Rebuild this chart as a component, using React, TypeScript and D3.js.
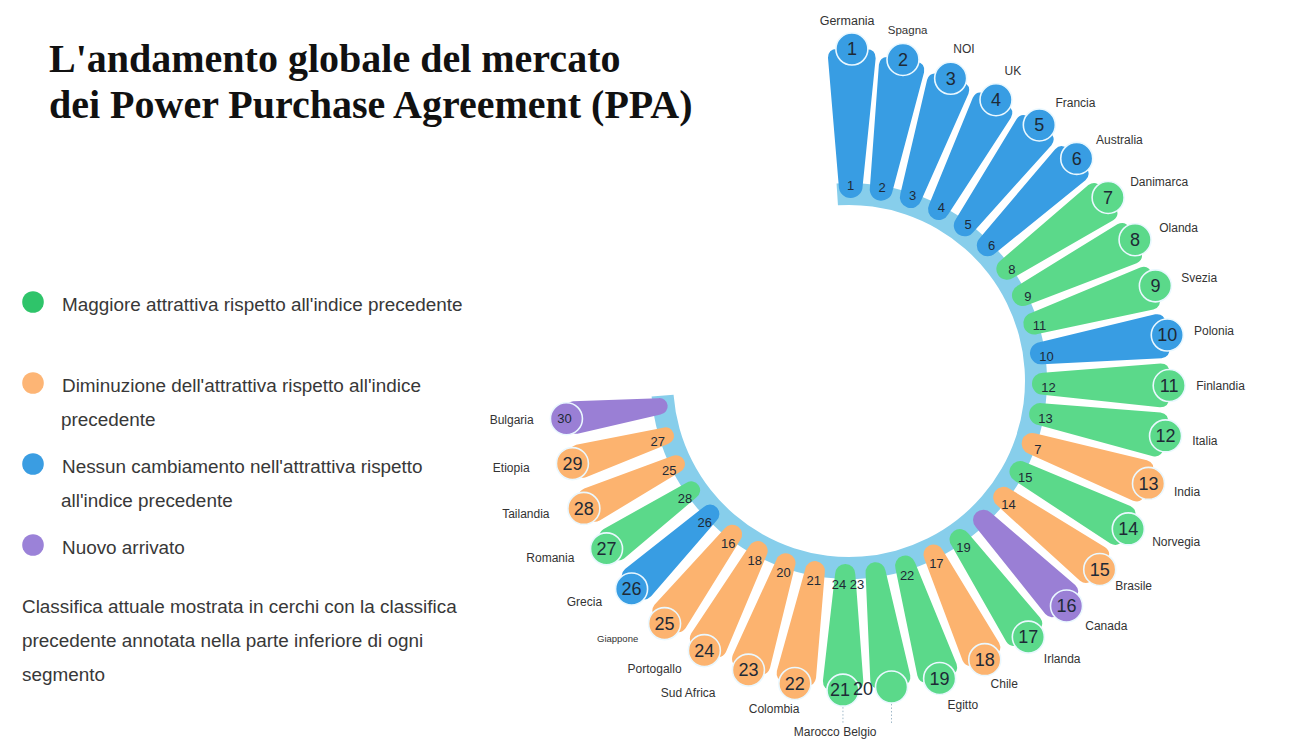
import React from "react";
import * as d3 from "d3";

// ---------- DATA ----------
const countries = [
  "Germania", "Spagna", "NOI", "UK", "Francia", "Australia", "Danimarca", "Olanda",
  "Svezia", "Polonia", "Finlandia", "Italia", "India", "Norvegia", "Brasile", "Canada",
  "Irlanda", "Chile", "Egitto", "Belgio", "Marocco", "Colombia", "Sud Africa",
  "Portogallo", "Giappone", "Grecia", "Romania", "Tailandia", "Etiopia", "Bulgaria",
];
const currentRank = [
  1, 2, 3, 4, 5, 6, 7, 8, 9, 10, 11, 12, 13, 14, 15, 16, 17, 18, 19, 20,
  21, 22, 23, 24, 25, 26, 27, 28, 29, 30,
];
const previousRank: (number | null)[] = [
  1, 2, 3, 4, 5, 6, 8, 9, 11, 10, 12, 13, 7, 15, 14, null, 19, 17, 22, 23,
  24, 21, 20, 18, 16, 26, 28, 25, 27, null,
];
const scores = [
  100, 96.0, 91.5, 90.2, 91.3, 90.9, 90.3, 91.3, 92.5, 93.0, 92.1, 92.8, 89.6, 89.3,
  87.7, 87.2, 87.0, 85.2, 85.9, 84.5, 84.7, 83.4, 82.6, 82.5, 81.7, 79.1, 75.1, 74.6,
  70.9, 68.5,
];
const trend = [
  "stabile", "stabile", "stabile", "stabile", "stabile", "stabile", "su", "su", "su",
  "stabile", "su", "su", "giu", "su", "giu", "nuovo", "su", "giu", "su", "su", "su",
  "giu", "giu", "giu", "giu", "stabile", "su", "giu", "giu", "nuovo",
];

const legendKeys = ["su", "giu", "stabile", "nuovo"];
const legendLabels = [
  ["Maggiore attrattiva rispetto all'indice precedente"],
  ["Diminuzione dell'attrattiva rispetto all'indice", "precedente"],
  ["Nessun cambiamento nell'attrattiva rispetto", "all'indice precedente"],
  ["Nuovo arrivato"],
];
const noteLines = [
  "Classifica attuale mostrata in cerchi con la classifica",
  "precedente annotata nella parte inferiore di ogni",
  "segmento",
];
const titleLines = [
  "L'andamento globale del mercato",
  "dei Power Purchase Agreement (PPA)",
];

// ---------- STYLE / LAYOUT ----------
const W = 1301;
const H = 744;
const CX = 849;
const CY = 381;
const R0 = 183;
const deg = Math.PI / 180;

const barColor: Record<string, string> = {
  su: "#5bd98a",
  giu: "#fcb36f",
  stabile: "#389de3",
  nuovo: "#9a7fd5",
};
const dotColor: Record<string, string> = {
  su: "#2fc46a",
  giu: "#fdb575",
  stabile: "#3a9de2",
  nuovo: "#9b82d8",
};

const angle = d3.scalePoint<string>().domain(countries).range([0.5, 262.4]);
const radius = d3.scaleLinear().domain([0, 100]).range([R0, 332]);

const polar = (r: number, a: number): [number, number] => [
  CX + r * Math.sin(a * deg),
  CY - r * Math.cos(a * deg),
];

function barPath(r1: number): string {
  const L = r1 - R0;
  const h0 = 0.08 * L;
  const h1 = 0.16 * L;
  const rc = 9;
  const p = d3.path();
  p.moveTo(R0 + h0, -h0);
  p.lineTo(r1 - rc, -h1);
  p.quadraticCurveTo(r1, -h1, r1, -h1 + rc);
  p.lineTo(r1, h1 - rc);
  p.quadraticCurveTo(r1, h1, r1 - rc, h1);
  p.lineTo(R0 + h0, h0);
  p.arc(R0 + h0, 0, h0, Math.PI / 2, (3 * Math.PI) / 2, false);
  p.closePath();
  return p.toString();
}

const labelNudge: Record<string, [number, number]> = {
  Germania: [-5, 0],
  Spagna: [0, -2],
  NOI: [-6, -4],
  UK: [-4, -5],
  Brasile: [-6, 0],
  Chile: [-6, 0],
  Colombia: [-16, -1],
  "Sud Africa": [-14, 3],
  Etiopia: [-7, 2],
  Bulgaria: [4, 4],
};
const labelSize: Record<string, number> = { Giappone: 9.5, Spagna: 11.5, Germania: 12.5 };

export default function App() {
  const band = d3.arc()({
    innerRadius: 176,
    outerRadius: 198,
    startAngle: -3.6 * deg,
    endAngle: 265.5 * deg,
  } as any) as string;

  const items = countries.map((c, i) => {
    const a = angle(c) as number;
    const r1 = radius(scores[i]);
    const [x, y] = polar(r1, a);
    return { c, i, a, r1, x, y, color: barColor[trend[i]] };
  });

  const byName = (n: string) => items.find((d) => d.c === n)!;
  const marocco = byName("Marocco");
  const belgio = byName("Belgio");
  const maroccoInner = polar(199.5, marocco.a);

  return (
    <svg
      width={W}
      height={H}
      style={{ position: "absolute", left: 0, top: 0, background: "#fff" }}
      fontFamily="'Liberation Sans', Arial, sans-serif"
    >
      {/* Title */}
      {titleLines.map((t, k) => (
        <text
          key={t}
          x={49}
          y={72 + k * 46}
          fontFamily="'Liberation Serif', 'Times New Roman', serif"
          fontWeight="bold"
          fontSize={40}
          fill="#111"
        >
          {t}
        </text>
      ))}

      {/* Legend */}
      {legendKeys.map((k, j) => {
        const yy = 302 + j * 81;
        return (
          <g key={k}>
            <circle cx={33} cy={yy} r={10.8} fill={dotColor[k]} />
            {legendLabels[j].map((ln, m) => (
              <text key={m} x={m === 0 ? 62 : 61} y={yy + 8.5 + m * 34} fontSize={18.9} fill="#383838">
                {ln}
              </text>
            ))}
          </g>
        );
      })}
      {noteLines.map((ln, m) => (
        <text key={ln} x={22} y={613 + m * 34} fontSize={18.9} fill="#383838">
          {ln}
        </text>
      ))}

      {/* Inner band */}
      <path d={band} transform={`translate(${CX},${CY})`} fill="#87ceeb" />

      {/* Bars and circles */}
      {items.map((d) => (
        <g key={d.c}>
          <path
            d={barPath(d.r1)}
            transform={`translate(${CX},${CY}) rotate(${d.a - 90})`}
            fill={d.color}
          />
          <circle cx={d.x} cy={d.y} r={16} fill={d.color} stroke="#eaf8ff" strokeWidth={1.6} />
        </g>
      ))}

      {/* Current rank in circles */}
      {items.map((d) => {
        const isB = d.c === "Belgio";
        const isM = d.c === "Marocco";
        const small = d.c === "Bulgaria";
        return (
          <text
            key={"cr" + d.c}
            x={isB ? marocco.x + 20 : d.x + (small ? -2 : isM ? -3 : 0)}
            y={d.y + (isB ? 1.5 : 0)}
            dy="0.35em"
            textAnchor="middle"
            fontSize={small ? 13 : 18}
            fill="#1e2a36"
          >
            {currentRank[d.i]}
          </text>
        );
      })}

      {/* Previous rank at inner end */}
      {items.map((d) => {
        const pr = previousRank[d.i];
        if (pr === null) return null;
        let [x, y] = polar(199.5, d.a);
        if (d.c === "Marocco") x -= 6;
        if (d.c === "Belgio") {
          x = maroccoInner[0] + 12;
          y = maroccoInner[1];
        }
        return (
          <text
            key={"pr" + d.c}
            x={x}
            y={y + 3.5}
            dy="0.35em"
            textAnchor="middle"
            fontSize={13}
            fill="#1e2a36"
          >
            {pr}
          </text>
        );
      })}

      {/* Country labels */}
      {items.map((d) => {
        if (d.c === "Marocco" || d.c === "Belgio") return null;
        let anchor = "start";
        let [x, y] = polar(d.r1 + 27, d.a);
        if (d.a < 15) {
          anchor = "middle";
          [x, y] = polar(d.r1 + 28, d.a);
        } else if (d.a > 180 && d.a < 195) {
          anchor = "middle";
        } else if (d.a >= 195) {
          anchor = "end";
          x -= 10;
          y -= 6;
        }
        const n = labelNudge[d.c] || [0, 0];
        return (
          <text
            key={"lb" + d.c}
            x={x + n[0]}
            y={y + n[1]}
            dy="0.35em"
            textAnchor={anchor}
            fontSize={labelSize[d.c] || 12}
            fill="#333"
          >
            {d.c}
          </text>
        );
      })}

      {/* Marocco / Belgio callouts */}
      {[marocco, belgio].map((d) => (
        <line
          key={"ln" + d.c}
          x1={d.x}
          x2={d.x}
          y1={d.y + 17}
          y2={CY + 343}
          stroke="#9fb8c8"
          strokeWidth={1}
          strokeDasharray="1.5 2"
        />
      ))}
      <text x={belgio.x - 15} y={CY + 351} dy="0.35em" textAnchor="end" fontSize={12} fill="#333">
        {marocco.c + " " + belgio.c}
      </text>
    </svg>
  );
}
